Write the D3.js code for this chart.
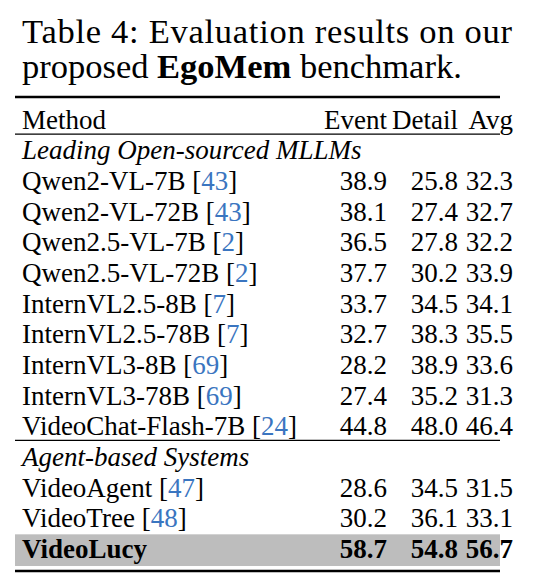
<!DOCTYPE html>
<html><head><meta charset="utf-8">
<script src="https://cdn.jsdelivr.net/npm/d3@7"></script>
<style>body{margin:0;background:#fff}</style>
</head><body><div id="viz"></div>
<script>
const width = 542, height = 586;
const columns = ["Method", "Event", "Detail", "Avg"];
const groups = ["Leading Open-sourced MLLMs", "Agent-based Systems"];
const methods = ["Qwen2-VL-7B", "Qwen2-VL-72B", "Qwen2.5-VL-7B", "Qwen2.5-VL-72B", "InternVL2.5-8B",
  "InternVL2.5-78B", "InternVL3-8B", "InternVL3-78B", "VideoChat-Flash-7B", "VideoAgent", "VideoTree", "VideoLucy"];
const cites = ["43", "43", "2", "2", "7", "7", "69", "69", "24", "47", "48", null];
const groupOf = [0, 0, 0, 0, 0, 0, 0, 0, 0, 1, 1, 1];
const eventScores = [38.9, 38.1, 36.5, 37.7, 33.7, 32.7, 28.2, 27.4, 44.8, 28.6, 30.2, 58.7];
const detailScores = [25.8, 27.4, 27.8, 30.2, 34.5, 38.3, 38.9, 35.2, 48.0, 34.5, 36.1, 54.8];
const avgScores = [32.3, 32.7, 32.2, 33.9, 34.1, 35.5, 33.6, 31.3, 46.4, 31.5, 33.1, 56.7];

const svg = d3.select('#viz').append('svg').attr('width', width).attr('height', height)
  .style('font-family', '"Liberation Serif", "Times New Roman", serif');

// title
svg.append('text').attr('x', 22).attr('y', 43).attr('font-size', 34.5)
  .attr('textLength', 490).attr('lengthAdjust', 'spacing').text('Table 4:  Evaluation results on our');
const t2 = svg.append('text').attr('x', 22).attr('y', 78).attr('font-size', 34.5);
t2.append('tspan').text('proposed ');
t2.append('tspan').attr('font-weight', 'bold').text('EgoMem');
t2.append('tspan').text(' benchmark.');

// build row list: header, group, 9 rows, group, 3 rows
const rows = [{type: 'head'}];
methods.forEach((m, i) => {
  if (i === 0 || groupOf[i] !== groupOf[i - 1]) rows.push({type: 'group', label: groups[groupOf[i]]});
  rows.push({type: 'data', i});
});
const y = d3.scaleBand().domain(d3.range(rows.length)).range([104, 564]);
const colX = d3.scaleOrdinal().domain(columns).range([22, 387, 458, 513]);
const vals = [eventScores, detailScores, avgScores];
const fs = 27;

// highlight band
const lastIdx = rows.length - 1;
svg.append('rect').attr('x', 15).attr('width', 485).attr('y', y(lastIdx) + 1).attr('height', y.bandwidth() + 1).attr('fill', '#bdbdbd');

rows.forEach((r, k) => {
  const by = y(k) + y.bandwidth() * 0.8;
  if (r.type === 'head') {
    columns.forEach((c, j) => svg.append('text').attr('x', colX(c)).attr('y', by).attr('font-size', fs)
      .attr('text-anchor', j ? 'end' : 'start').text(c));
  } else if (r.type === 'group') {
    svg.append('text').attr('x', colX('Method')).attr('y', by).attr('font-size', fs).attr('font-style', 'italic').text(r.label);
  } else {
    const i = r.i, bold = i === methods.length - 1;
    const t = svg.append('text').attr('x', colX('Method')).attr('y', by).attr('font-size', fs)
      .attr('font-weight', bold ? 'bold' : null);
    t.append('tspan').text(methods[i]);
    if (cites[i]) {
      t.append('tspan').text(' [');
      t.append('tspan').attr('fill', '#3a75c0').text(cites[i]);
      t.append('tspan').text(']');
    }
    columns.slice(1).forEach((c, j) => svg.append('text').attr('x', colX(c)).attr('y', by).attr('font-size', fs)
      .attr('text-anchor', 'end').attr('font-weight', bold ? 'bold' : null).text(vals[j][i].toFixed(1)));
  }
});

// rules
const rule = (yy, w) => svg.append('line').attr('x1', 15).attr('x2', 500).attr('y1', yy).attr('y2', yy)
  .attr('stroke', '#000').attr('stroke-width', w);
rule(y(0) - 7, 2.5);
rule(y(1) - 0.5, 1.2);
rule(y(11) - 1, 1.2);
rule(y(lastIdx) + y.bandwidth() + 7, 2.5);
</script></body></html>
